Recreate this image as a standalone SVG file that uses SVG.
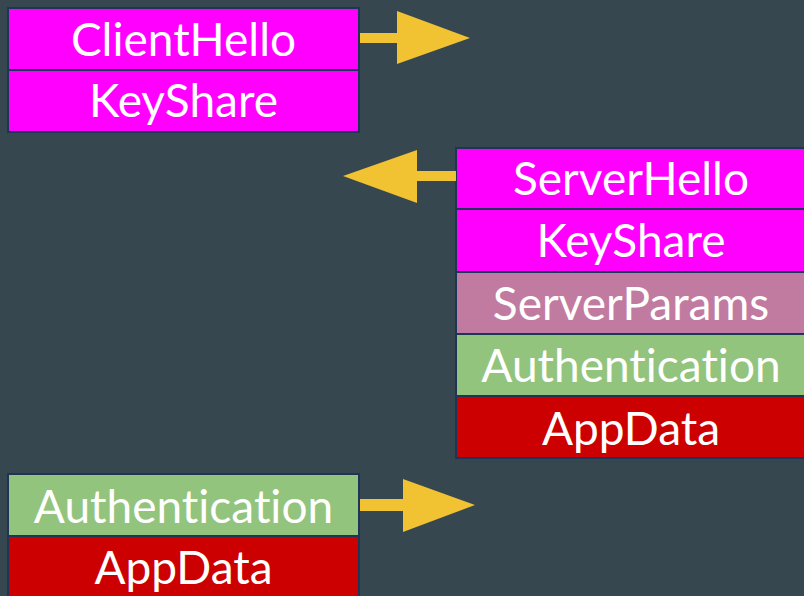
<svg xmlns="http://www.w3.org/2000/svg" width="804" height="596" viewBox="0 0 804 596">
<style>
.box{stroke:#1D3557;stroke-width:2}
.mag{fill:#FF00FF}
.par{fill:#C27BA0}
.grn{fill:#93C47D}
.red{fill:#CC0000}
.lbl{font-family:Lato,"Open Sans",sans-serif;font-size:46px;fill:#FFFFFF;text-anchor:middle;font-variant-ligatures:none}
.arr{fill:#F1C232}
</style>
<rect width="804" height="596" fill="#37474F"/>
<g id="client-hello"><rect class="box mag" x="8" y="8" width="351" height="62"/><text class="lbl" x="183.5" y="56">ClientHello</text></g>
<g id="client-keyshare"><rect class="box mag" x="8" y="70" width="351" height="62"/><text class="lbl" x="183.5" y="117">KeyShare</text></g>
<g id="server-hello"><rect class="box mag" x="456" y="148" width="351" height="61"/><text class="lbl" x="631" y="195">ServerHello</text></g>
<g id="server-keyshare"><rect class="box mag" x="456" y="209" width="351" height="63"/><text class="lbl" x="631" y="257">KeyShare</text></g>
<g id="server-params"><rect class="box par" x="456" y="272" width="351" height="62"/><text class="lbl" x="631" y="320">ServerParams</text></g>
<g id="server-auth"><rect class="box grn" x="456" y="334" width="351" height="62"/><text class="lbl" x="631" y="382">Authentication</text></g>
<g id="server-appdata"><rect class="box red" x="456" y="396" width="351" height="62"/><text class="lbl" x="631" y="445">AppData</text></g>
<g id="client-auth"><rect class="box grn" x="8" y="474" width="351" height="62"/><text class="lbl" x="183.5" y="523">Authentication</text></g>
<g id="client-appdata"><rect class="box red" x="8" y="536" width="351" height="64"/><text class="lbl" x="183.5" y="584">AppData</text></g>
<g id="connectors">
<polygon class="arr" points="360,33 397,33 397,11 470,38 397,64 397,43 360,43"/>
<polygon class="arr" points="456,171 417,171 417,150 343,176 417,203 417,181 456,181"/>
<polygon class="arr" points="360,499 403,499 403,479 475,505 403,532 403,511 360,511"/>
</g>
</svg>
